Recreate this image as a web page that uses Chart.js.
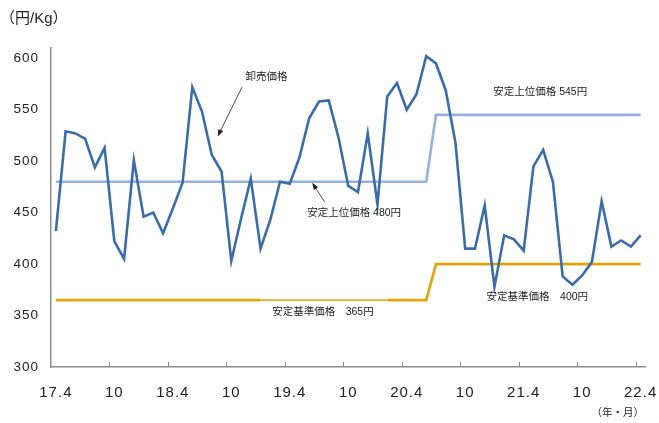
<!DOCTYPE html>
<html lang="ja">
<head>
<meta charset="utf-8">
<title>卸売価格と安定価格帯</title>
<script src="https://cdn.jsdelivr.net/npm/chart.js@4.4.1/dist/chart.umd.min.js"></script>
<style>
  html, body { margin: 0; padding: 0; background: #fff; }
  #wrap { width: 659px; height: 423px; position: relative; }
</style>
</head>
<body>
<div id="wrap"><canvas id="priceChart"></canvas></div>
<script>
// monthly categories, 2017.4 - 2022.4
const months = [];
for (let yy = 17, mm = 4; yy < 22 || (yy === 22 && mm <= 4); mm++) {
  if (mm > 12) { mm = 1; yy++; }
  if (yy === 22 && mm > 4) break;
  months.push(yy + '.' + mm);
}

// axis labels, one every 6 months
const tickLabels = ['17.4', '10', '18.4', '10', '19.4', '10', '20.4', '10', '21.4', '10', '22.4'];
const yTicks = [300, 350, 400, 450, 500, 550, 600];

// 卸売価格 (円/Kg)
const wholesale = [
  432, 529, 527, 522, 494, 513, 422, 405, 501, 446, 450, 430,
  454, 479, 572, 548, 506, 490, 403, 444, 483, 415, 443, 480,
  478, 504, 542, 558, 559, 523, 476, 470, 527, 458, 563, 576,
  550, 565, 602, 595, 569, 518, 415, 415, 457, 378, 428, 424,
  413, 495, 511, 480, 388, 380, 389, 402, 461, 417, 423, 417,
  428
];

// 安定上位価格
const upperPrice = [
  480, 480, 480, 480, 480, 480, 480, 480, 480, 480, 480, 480,
  480, 480, 480, 480, 480, 480, 480, 480, 480, 480, 480, 480,
  480, 480, 480, 480, 480, 480, 480, 480, 480, 480, 480, 480,
  480, 480, 480, 545, 545, 545, 545, 545, 545, 545, 545, 545,
  545, 545, 545, 545, 545, 545, 545, 545, 545, 545, 545, 545,
  545
];

// 安定基準価格
const basePrice = [
  365, 365, 365, 365, 365, 365, 365, 365, 365, 365, 365, 365,
  365, 365, 365, 365, 365, 365, 365, 365, 365, 365, 365, 365,
  365, 365, 365, 365, 365, 365, 365, 365, 365, 365, 365, 365,
  365, 365, 365, 400, 400, 400, 400, 400, 400, 400, 400, 400,
  400, 400, 400, 400, 400, 400, 400, 400, 400, 400, 400, 400,
  400
];

// text notes placed in data units: [month index, value]
const notes = [
  { text: '卸売価格', at: [21.6, 582] },
  { text: '安定上位価格 480円', at: [30.6, 450] },
  { text: '安定上位価格 545円', at: [49.7, 567] },
  { text: '安定基準価格　365円', at: [27.4, 353] },
  { text: '安定基準価格　400円', at: [49.4, 368] }
];

// pointer arrows: from -> to, in data units
const arrows = [
  { from: [19.1, 572], to: [16.6, 524] },
  { from: [27.6, 460], to: [26.3, 479] }
];

const CJK = '"Liberation Sans", Arial, "Noto Sans CJK JP", sans-serif';
Chart.defaults.font.family = CJK;
Chart.defaults.color = '#222';

const overlay = {
  id: 'overlay',
  beforeDraw(chart) {
    // axis numbers are set a little wider
    chart.ctx.letterSpacing = '1px';
  },
  afterDraw(chart) {
    const { ctx, chartArea } = chart;
    const x = chart.scales.x, y = chart.scales.y;
    ctx.save();
    ctx.letterSpacing = '0px';

    // small inward tick marks between categories
    const half = (x.getPixelForValue(1) - x.getPixelForValue(0)) / 2;
    ctx.strokeStyle = '#8c8c8c';
    ctx.lineWidth = 1;
    for (let i = 6; i < months.length; i += 6) {
      const px = Math.round(x.getPixelForValue(i) - half) + 0.5;
      ctx.beginPath();
      ctx.moveTo(px, chartArea.bottom);
      ctx.lineTo(px, chartArea.bottom - 5);
      ctx.stroke();
    }

    ctx.fillStyle = '#222';
    ctx.textAlign = 'center';
    ctx.textBaseline = 'middle';
    ctx.font = '10.5px ' + CJK;
    notes.forEach(n => {
      ctx.fillText(n.text, x.getPixelForValue(n.at[0]), y.getPixelForValue(n.at[1]));
    });

    ctx.strokeStyle = '#222';
    ctx.lineWidth = 0.8;
    arrows.forEach(a => {
      const x0 = x.getPixelForValue(a.from[0]), y0 = y.getPixelForValue(a.from[1]);
      const x1 = x.getPixelForValue(a.to[0]), y1 = y.getPixelForValue(a.to[1]);
      const ang = Math.atan2(y1 - y0, x1 - x0);
      ctx.beginPath();
      ctx.moveTo(x0, y0);
      ctx.lineTo(x1 - 4 * Math.cos(ang), y1 - 4 * Math.sin(ang));
      ctx.stroke();
      ctx.beginPath();
      ctx.moveTo(x1, y1);
      ctx.lineTo(x1 - 7 * Math.cos(ang) + 2.6 * Math.sin(ang), y1 - 7 * Math.sin(ang) - 2.6 * Math.cos(ang));
      ctx.lineTo(x1 - 7 * Math.cos(ang) - 2.6 * Math.sin(ang), y1 - 7 * Math.sin(ang) + 2.6 * Math.cos(ang));
      ctx.closePath();
      ctx.fill();
    });

    // unit captions
    ctx.textAlign = 'left';
    ctx.font = '15px ' + CJK;
    ctx.fillText('（円/Kg）', 0, 19);
    ctx.textAlign = 'right';
    ctx.font = '10.5px ' + CJK;
    ctx.fillText('（年・月）', 644, 413);
    ctx.restore();
  }
};

const ctx = document.getElementById('priceChart').getContext('2d');
const priceChart = new Chart(ctx, {
  type: 'line',
  data: {
    labels: months,
    datasets: [
      {
        label: '卸売価格',
        data: wholesale,
        borderColor: '#3b6ca8',
        borderWidth: 2.6,
        pointRadius: 0,
        tension: 0,
        order: 0
      },
      {
        label: '安定上位価格',
        data: upperPrice,
        borderColor: 'rgba(140, 168, 212, 0.9)',
        borderWidth: 2.6,
        pointRadius: 0,
        tension: 0,
        order: 1
      },
      {
        label: '安定基準価格',
        data: basePrice,
        borderColor: '#e3a30f',
        borderWidth: 2.6,
        pointRadius: 0,
        tension: 0,
        order: 2,
        segment: {
          // thinner stretch in the middle of the 365円 line
          borderWidth: c => (c.p0DataIndex >= 21 && c.p0DataIndex < 34) ? 1.6 : 2.6,
          borderColor: c => (c.p0DataIndex >= 21 && c.p0DataIndex < 34) ? '#e8b21e' : '#e3a30f'
        }
      }
    ]
  },
  options: {
    responsive: true,
    maintainAspectRatio: false,
    animation: false,
    layout: { padding: { top: 48, right: 13.5, bottom: 0, left: 0 } },
    plugins: {
      legend: { display: false },
      tooltip: { enabled: false }
    },
    scales: {
      x: {
        offset: true,
        grid: { display: false, offset: true, drawTicks: false },
        border: { color: '#8c8c8c', width: 1.5 },
        ticks: {
          autoSkip: false,
          maxRotation: 0,
          padding: 17,
          color: '#222',
          font: { size: 15 },
          callback: (v, i) => (i % 6 === 0 ? tickLabels[i / 6] : '')
        },
        afterFit: scale => {
          scale.height = 56;
          scale.paddingLeft = 0;
          scale.paddingRight = 0;
        }
      },
      y: {
        min: 300,
        max: 610,
        grid: { display: false, drawTicks: false },
        border: { color: '#8c8c8c', width: 1.5 },
        ticks: { padding: 12, color: '#222', font: { size: 13.5 } },
        afterBuildTicks: scale => {
          scale.ticks = yTicks.map(v => ({ value: v }));
        },
        afterFit: scale => { scale.width = 51; }
      }
    }
  },
  plugins: [overlay]
});
</script>
</body>
</html>
